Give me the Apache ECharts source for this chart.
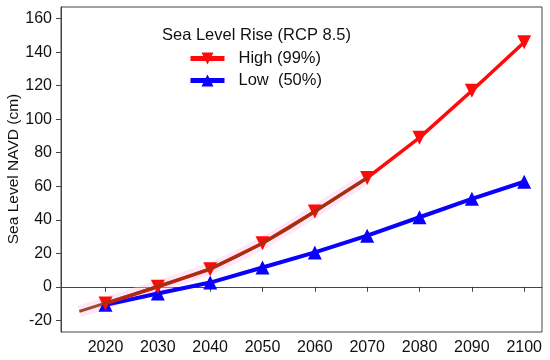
<!DOCTYPE html>
<html>
<head>
<meta charset="utf-8">
<script src="https://cdn.jsdelivr.net/npm/echarts@6/dist/echarts.min.js"></script>
<style>html,body{margin:0;padding:0;background:#fff}#c{width:550px;height:360px}</style>
</head>
<body>
<div id="c"></div>
<script>
var years = [2020, 2030, 2040, 2050, 2060, 2070, 2080, 2090, 2100];
var highValues = [-10, 0, 10.5, 26, 45, 65, 89, 117, 146];
var lowValues = [-10.8, -4, 2.5, 11.5, 20.5, 30.5, 41.5, 52.5, 62.7];
var obsYears = [2015, 2020, 2025, 2030, 2035, 2040, 2045, 2050, 2055, 2060, 2065, 2070];
var obsValues = [-14.7, -9.8, -4.8, 0.3, 5.3, 10.8, 18, 26, 35, 45, 55, 65];
var xTicks = [2020, 2030, 2040, 2050, 2060, 2070, 2080, 2090, 2100];
var yTicks = [-20, 0, 20, 40, 60, 80, 100, 120, 140, 160];
var yAxisTitle = 'Sea Level NAVD (cm)';

function pairs(xs, ys) { return xs.map(function (x, i) { return [x, ys[i]]; }); }

var font = 'Liberation Sans, Arial, Helvetica, sans-serif';
var chart = echarts.init(document.getElementById('c'), null, {renderer: 'canvas'});
chart.setOption({
  animation: false,
  backgroundColor: '#fff',
  title: {
    text: 'Sea Level Rise (RCP 8.5)',
    left: 157, top: 22,
    textStyle: {fontFamily: font, fontSize: 16.5, fontWeight: 'normal', color: '#111'}
  },
  legend: {
    data: ['High (99%)', 'Low  (50%)'],
    orient: 'vertical',
    left: 188, top: 50, padding: 0,
    itemWidth: 34, itemHeight: 15, itemGap: 5,
    lineStyle: {width: 5},
    textStyle: {fontFamily: font, fontSize: 16.5, color: '#111', padding: [0, 0, 0, 9]}
  },
  graphic: [{
    type: 'text', x: 14, y: 169, rotation: Math.PI / 2,
    style: {text: yAxisTitle, fontFamily: font, fontSize: 15.5, fill: '#111',
      align: 'center', verticalAlign: 'middle'}
  }],
  grid: {left: 61, right: 8, top: 7, bottom: 28, show: true, borderColor: '#444', borderWidth: 1,
    containLabel: false, outerBoundsMode: 'none'},
  xAxis: {
    type: 'value', min: 2011.5, max: 2103.4,
    splitLine: {show: false},
    axisLine: {show: true, lineStyle: {color: '#444', width: 1}},
    axisTick: {show: true, length: 5, lineStyle: {color: '#444'}, customValues: xTicks},
    axisLabel: {customValues: xTicks, formatter: function (v) { return String(v); },
      fontFamily: font, fontSize: 16, color: '#111', margin: 8}
  },
  yAxis: {
    type: 'value', min: -27, max: 167,
    splitLine: {show: false},
    axisLine: {show: true, lineStyle: {color: '#444', width: 1}},
    axisTick: {show: true, length: 5, lineStyle: {color: '#444'}, customValues: yTicks},
    axisLabel: {customValues: yTicks, fontFamily: font, fontSize: 16, color: '#111', margin: 9}
  },
  series: [
    {
      name: 'obsBand', type: 'line', data: pairs(obsYears, obsValues),
      symbol: 'none', silent: true, z: 1,
      lineStyle: {color: 'rgba(255,200,240,0.45)', width: 12}
    },
    {
      name: 'Low  (50%)', type: 'line', data: pairs(years, lowValues),
      symbol: 'triangle', symbolSize: 14, z: 2,
      itemStyle: {color: '#0a00ff'},
      lineStyle: {color: '#0a00ff', width: 4}
    },
    {
      name: 'High (99%)', type: 'line', data: pairs(years, highValues),
      symbol: 'triangle', symbolRotate: 180, symbolSize: 14, z: 3,
      itemStyle: {color: '#ff0a0a'},
      lineStyle: {color: '#ff0a0a', width: 3.5}
    },
    {
      name: 'obs', type: 'line', data: pairs(obsYears, obsValues),
      symbol: 'none', silent: true, z: 4,
      lineStyle: {color: 'rgba(150,55,15,0.9)', width: 3}
    }
  ]
});
</script>
</body>
</html>
